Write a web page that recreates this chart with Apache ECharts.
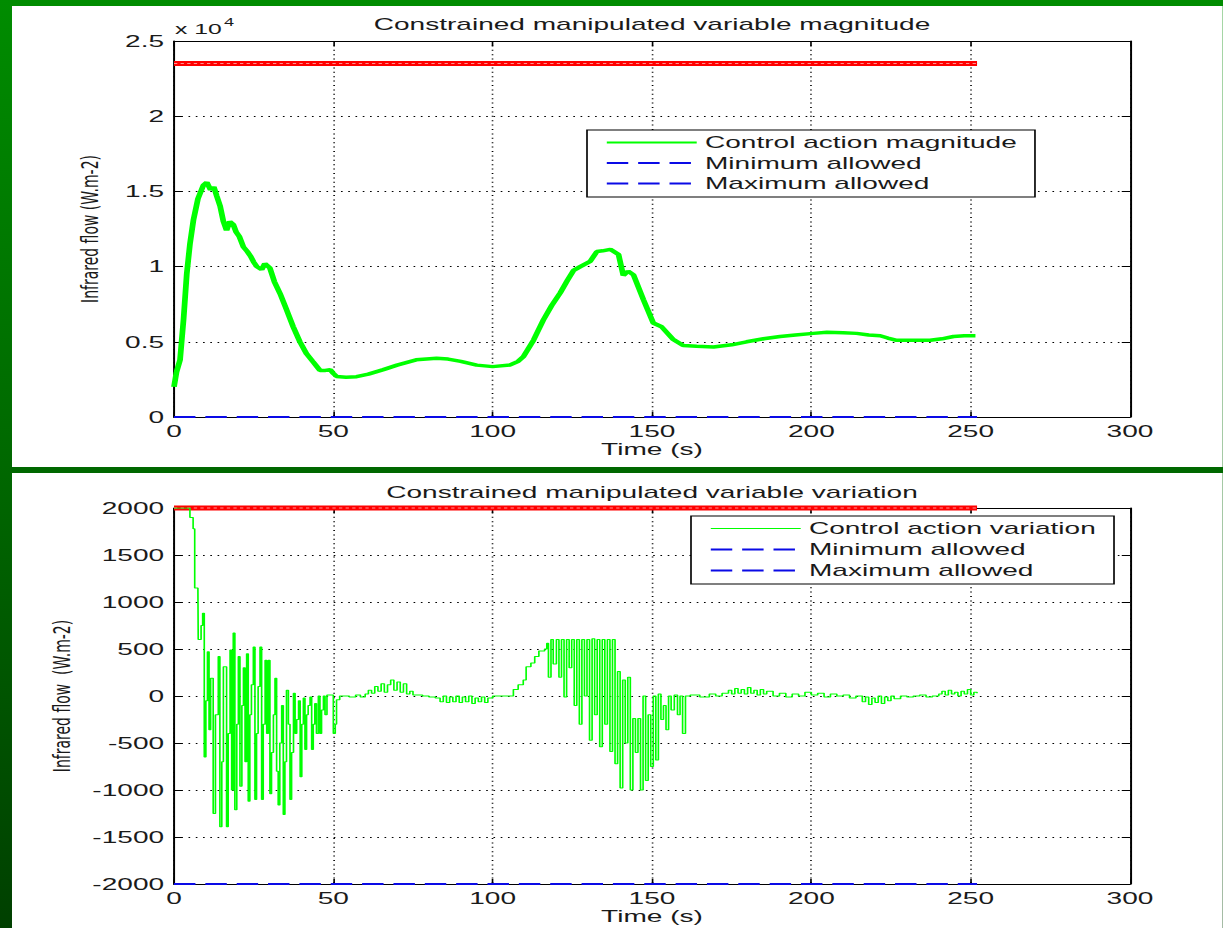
<!DOCTYPE html>
<html><head><meta charset="utf-8">
<script src="https://cdn.jsdelivr.net/npm/echarts@6.0.0/dist/echarts.min.js"></script>
<style>
html,body{margin:0;padding:0;width:1223px;height:928px;overflow:hidden;background:linear-gradient(to bottom,#008c00 0%,#006800 50%,#004000 100%);}
#chart{position:absolute;left:0;top:0;height:928px;transform-origin:0 0;}
</style></head><body><div id="chart"></div>
<script>
// ---- texts ----
const magnitudeTitle = 'Constrained manipulated variable magnitude';
const variationTitle = 'Constrained manipulated variable variation';
const xName = 'Time (s)';
const yNameTop = 'Infrared flow (W.m-2)';
const yNameBottom = 'Infrared flow  (W.m-2)';
const legendTop = ['Control action magnitude', 'Minimum allowed', 'Maximum allowed'];
const legendBottom = ['Control action variation', 'Minimum allowed', 'Maximum allowed'];

// ---- axes (ticks) ----
const xTicks = [0, 50, 100, 150, 200, 250, 300];
const yTicksTop = [0, 5000, 10000, 15000, 20000, 25000];      // shown as x 10^4
const yTicksBottom = [-2000, -1500, -1000, -500, 0, 500, 1000, 1500, 2000];

// ---- limits ----
const magnitudeMin = [[0, 0], [252, 0]];
const magnitudeMax = [[0, 23500], [252, 23500]];
const magnitudeMarkers = [[0, 23500], [252, 23500]];
const variationMin = [[0, -2000], [252, -2000]];
const variationMax = [[0, 2000], [252, 2000]];
const variationMarkers = [[0, 2000], [252, 2000]];

// ---- control action magnitude (t, W.m-2) ----
const magnitude = [
 [0,2000],[0.8,3000],[1.9,3800],[3,6500],[4,9500],[5,11500],[6.1,13100],[7.5,14500],[9.2,15400],[10.3,15600],
 [11.5,15100],[12.5,15300],[13.4,14700],[14.5,14000],[15.5,13000],[16.5,12400],[17.5,13000],[18.6,12800],[19.5,12300],[20.5,12000],
 [21.8,11300],[23,11000],[24,10700],[25,10300],[26,10000],[27.5,9800],[28.5,10200],[30.1,9900],[31.5,9000],[33.3,8200],
 [35,7300],[37.4,6000],[39.5,5000],[41.6,4200],[43.5,3700],[45.8,3100],[47.5,3100],[49,3150],[50,2900],[51,2700],
 [54,2650],[57.3,2680],[61,2850],[65.7,3150],[70,3450],[76,3800],[82.4,3900],[86,3850],[90,3700],[95,3450],
 [100,3350],[105.5,3460],[108,3700],[109.6,4000],[112.8,5100],[115.9,6450],[118.5,7400],[121.2,8250],[123.5,9100],[125.4,9750],
 [127.5,10000],[130.6,10350],[132.7,11000],[134.5,11050],[136.9,11150],[139.5,10800],[141,9400],[142.5,9700],[144.2,9450],[147.3,7800],
 [150.4,6250],[153,6000],[156.7,5150],[159.8,4750],[164,4700],[169.3,4650],[175,4800],[179.7,5000],[185,5200],[190.2,5350],
 [195,5450],[200.6,5560],[204.9,5630],[210,5600],[214.2,5560],[218,5450],[221.6,5400],[224,5250],[226.8,5100],[232,5100],
 [237.3,5100],[241,5200],[244.6,5350],[248,5400],[251.5,5400]
];

// ---- control action variation (t, W.m-2) ----
const variation = [
 [0,2000],[4,2000],[5,1900],[6,1780],[6.5,1150],[7.5,1150],[7.6,600],[8.5,750],[9,880],[9.5,-650],
 [10,-50],[10.5,470],[11,-360],[11.5,190],[12.3,-1250],[13,-200],[13.9,420],[14.4,-1390],[15,-700],[15.5,310],
 [16.5,-1390],[17,-400],[17.6,490],[18.1,-1000],[18.6,670],[19.1,-1210],[19.7,-300],[20.2,420],[20.7,-960],[21.3,-100],
 [21.8,300],[22.3,-700],[22.8,450],[23.3,-1120],[23.8,-200],[24.3,120],[24.9,520],[25.4,-1100],[25.9,-400],[26.4,100],
 [27,520],[27.5,-1100],[28,-300],[28.6,380],[29.1,-400],[29.6,380],[30.1,-1040],[30.6,-600],[31.2,-200],[31.7,190],
 [32.2,-800],[32.7,-1160],[33.2,-500],[33.8,-100],[34.3,-1260],[34.8,-700],[35.3,60],[35.9,-300],[36.4,-1100],[36.9,-600],
 [37.5,30],[38,-400],[38.5,-250],[39.1,-50],[39.6,-860],[40.1,-300],[40.6,-20],[41.1,-570],[41.6,-200],[42.1,-100],
 [42.7,-10],[43.2,-570],[43.7,-300],[44.2,-80],[44.7,-400],[45.3,0],[45.8,-400],[46.3,-150],[46.9,0],[47.4,-200],
 [48,10],[49.5,10],[50,-400],[50.6,-300],[51,-40],[52,0],[55,-10],[57,10],[58.5,-10],[60,20],
 [61,60],[62,30],[63,100],[64,50],[65,130],[66,40],[67,120],[68,170],[69,60],[70,150],
 [71,40],[72,130],[73,20],[74,50],[75,10],[78,0],[80,-10],[82,-20],[83.5,-60],[84.5,0],
 [85.5,-70],[86.5,-10],[87.5,-60],[88.5,0],[89.5,-70],[90.5,-10],[91.5,-60],[92.5,0],[93.5,-80],[94.5,-20],
 [95.5,-60],[96.5,-10],[97.5,-70],[98.5,-20],[100,0],[105.5,0],[106.5,70],[108,120],[109.6,170],[110.5,310],
 [112,350],[113.2,420],[114.5,480],[116.3,500],[117,560],[117.5,200],[118.3,600],[119,340],[120,600],[120.8,200],
 [121.6,600],[122.4,-10],[123.2,600],[124,300],[124.8,600],[125.6,-100],[126.4,600],[127.2,-300],[128,600],[128.8,0],
 [129.6,600],[130.4,-470],[131.2,610],[132,-200],[132.8,600],[133.6,-540],[134.4,600],[135.2,-300],[136,600],[136.8,-590],
 [137.6,600],[138.4,-720],[139.2,260],[140,-980],[140.8,170],[141.6,-500],[142.4,200],[143.2,-1000],[144,-240],[144.8,-600],
 [145.6,-240],[146.4,-1000],[147.2,0],[148,-900],[148.8,-200],[149.6,-750],[150.4,0],[151.2,-680],[152,20],[152.8,-250],
 [153.6,-100],[154.4,-360],[155.2,0],[156,-150],[157,10],[158,-200],[158.8,0],[159.6,-400],[160.5,0],[162,10],
 [165,-10],[168,20],[170,0],[172,30],[174,60],[175,20],[176,80],[177,30],[178,70],[179,20],
 [180,90],[181,30],[182,60],[183,10],[184,70],[185,20],[186,50],[188,0],[190,30],[192,-10],
 [194,20],[196,0],[198,40],[200,10],[202,30],[204,-10],[206,20],[208,0],[210,10],[212,-20],
 [214,0],[216,-60],[217,-10],[218,-90],[219,-20],[220,-70],[221,0],[222,-80],[223,-10],[224,-50],
 [225,0],[226,-30],[228,0],[230,-10],[232,0],[234,10],[236,-10],[238,0],[240,20],[241,50],
 [242,10],[243,60],[244,20],[245,40],[246,0],[247,50],[248,20],[249,70],[250,10],[251,40],[252,30]
];

// ---- layout (the MATLAB figure is horizontally stretched) ----
const S = 1.65;
const W = 1223 / S;
const el = document.getElementById('chart');
el.style.width = W + 'px';
el.style.transform = 'scaleX(' + S + ')';
const chart = echarts.init(el, null, { renderer: 'svg', width: W, height: 928 });

const FONT = '"Liberation Sans", Arial, sans-serif';
const TXT = '#1a1a1a';
const gridLeft = 174 / S;
const gridRightEdge = 1130 / S;
const gridRight = W - gridRightEdge;
const gridCenter = (gridLeft + gridRightEdge) / 2;
const GREEN = '#00ff00', BLUE = '#0a0ae6', RED = '#ff0000';
const DASH = [13, 6];

function makeX(gridIndex) {
  const common = {
    type: 'value', gridIndex, min: xTicks[0], max: xTicks[xTicks.length - 1],
    interval: xTicks[1] - xTicks[0],
    axisLine: { show: true, onZero: false, lineStyle: { color: '#000', width: 1.2 } },
    axisTick: { show: true, inside: true, length: 5, lineStyle: { color: '#000', width: 1 } }
  };
  return [
    Object.assign({}, common, {
      position: 'bottom', name: xName, nameLocation: 'middle', nameGap: 23,
      nameTextStyle: { fontFamily: FONT, fontSize: 17, color: TXT },
      axisLabel: { fontFamily: FONT, fontSize: 17, color: TXT, margin: 6 },
      splitLine: { show: true, lineStyle: { color: '#000', width: 1, type: [1, 3.4] } }
    }),
    Object.assign({}, common, {
      position: 'top', axisLabel: { show: false }, splitLine: { show: false }
    })
  ];
}
function makeY(gridIndex, ticks, name, nameGap, fmt) {
  const common = {
    type: 'value', gridIndex, min: ticks[0], max: ticks[ticks.length - 1],
    interval: ticks[1] - ticks[0],
    axisLine: { show: true, onZero: false, lineStyle: { color: '#000', width: 1.2 } },
    axisTick: { show: true, inside: true, length: 5, lineStyle: { color: '#000', width: 1 } }
  };
  return [
    Object.assign({}, common, {
      position: 'left', name, nameLocation: 'middle', nameGap,
      nameTextStyle: { fontFamily: '"DejaVu Sans", sans-serif', fontSize: 14, color: TXT },
      axisLabel: { fontFamily: FONT, fontSize: 17, color: TXT, margin: 6, formatter: fmt },
      splitLine: { show: true, lineStyle: { color: '#000', width: 1, type: [1, 3.4] } }
    }),
    Object.assign({}, common, {
      position: 'right', axisLabel: { show: false }, splitLine: { show: false }
    })
  ];
}

function line(name, data, xi, yi, color, width, type, z, extra) {
  return Object.assign({
    type: 'line', name, data, xAxisIndex: xi, yAxisIndex: yi,
    symbol: 'none', showSymbol: false, animation: false, z,
    lineStyle: { color, width, type },
    itemStyle: { color },
    emphasis: { disabled: true }
  }, extra || {});
}

const hiddenSymbol = { color: 'rgba(0,0,0,0)', borderColor: 'rgba(0,0,0,0)', borderWidth: 0, opacity: 0 };
const legendCommon = {
  orient: 'vertical', itemWidth: 54.5, itemHeight: 14, itemGap: 3.5,
  backgroundColor: '#fff', borderColor: '#000', borderWidth: 1, borderRadius: 0,
  textStyle: { fontFamily: FONT, fontSize: 17, color: TXT },
  itemStyle: hiddenSymbol,
  selectedMode: false
};

const option = {
  animation: false,
  backgroundColor: 'transparent',
  graphic: [
    { type: 'rect', z: -100, silent: true, shape: { x: 12 / S, y: 6, width: W, height: 461 }, style: { fill: '#fff' } },
    { type: 'rect', z: -100, silent: true, shape: { x: 12 / S, y: 473, width: W, height: 455 }, style: { fill: '#fff' } },
    { type: 'text', x: gridCenter, y: 24, style: { text: magnitudeTitle, fontFamily: FONT, fontSize: 17, fill: TXT, align: 'center', verticalAlign: 'middle' } },
    { type: 'text', x: gridCenter, y: 492, style: { text: variationTitle, fontFamily: FONT, fontSize: 17, fill: TXT, align: 'center', verticalAlign: 'middle' } },
    { type: 'text', x: 175 / S, y: 29, style: { text: 'x 10', fontFamily: FONT, fontSize: 15, fill: TXT, align: 'left', verticalAlign: 'middle' } },
    { type: 'text', x: 224 / S, y: 21.5, style: { text: '4', fontFamily: FONT, fontSize: 11, fill: TXT, align: 'left', verticalAlign: 'middle' } }
  ],
  grid: [
    { left: gridLeft, right: gridRight, top: 41, height: 376, containLabel: false },
    { left: gridLeft, right: gridRight, top: 508, height: 376, containLabel: false }
  ],
  xAxis: [].concat(makeX(0), makeX(1)),
  yAxis: [].concat(
    makeY(0, yTicksTop, yNameTop, 44, v => String(v / 10000)),
    makeY(1, yTicksBottom, yNameBottom, 61, v => String(v))
  ),
  legend: [
    Object.assign({}, legendCommon, {
      left: 587 / S, top: 130, padding: [4, 11, 5, 11],
      data: [
        { name: legendTop[0], lineStyle: { width: 2 }, itemStyle: hiddenSymbol },
        { name: legendTop[1], lineStyle: { width: 2 }, itemStyle: hiddenSymbol },
        { name: legendTop[2], lineStyle: { width: 2 }, itemStyle: hiddenSymbol }
      ]
    }),
    Object.assign({}, legendCommon, {
      left: 691 / S, top: 516, padding: [4, 11, 5, 11], itemGap: 4,
      data: [
        { name: legendBottom[0], lineStyle: { width: 1 }, itemStyle: hiddenSymbol },
        { name: legendBottom[1], lineStyle: { width: 2 }, itemStyle: hiddenSymbol },
        { name: legendBottom[2], lineStyle: { width: 2 }, itemStyle: hiddenSymbol }
      ]
    })
  ],
  series: [
    line(legendTop[1], magnitudeMin, 0, 0, BLUE, 2, DASH, 3, { clip: false }),
    line(legendTop[2], magnitudeMax, 0, 0, BLUE, 2, DASH, 3, { clip: false }),
    line('upper limit markers (magnitude)', magnitudeMarkers, 0, 0, RED, 5, 'solid', 4, { clip: false }),
    line('upper limit marker texture (magnitude)', magnitudeMarkers, 0, 0, '#ff9090', 1, [2, 2], 5, { clip: false }),
    line(legendTop[0], magnitude, 0, 0, GREEN, 3.5, 'solid', 6),

    line(legendBottom[1], variationMin, 2, 2, BLUE, 2, DASH, 3, { clip: false }),
    line(legendBottom[2], variationMax, 2, 2, BLUE, 2, DASH, 3, { clip: false }),
    line('upper limit markers (variation)', variationMarkers, 2, 2, RED, 5, 'solid', 4, { clip: false }),
    line('upper limit marker texture (variation)', variationMarkers, 2, 2, '#ff9090', 1, [2, 2], 5, { clip: false }),
    line(legendBottom[0], variation, 2, 2, GREEN, 1, 'solid', 6, { step: 'end' })
  ]
};
chart.setOption(option);
</script>
</body></html>
